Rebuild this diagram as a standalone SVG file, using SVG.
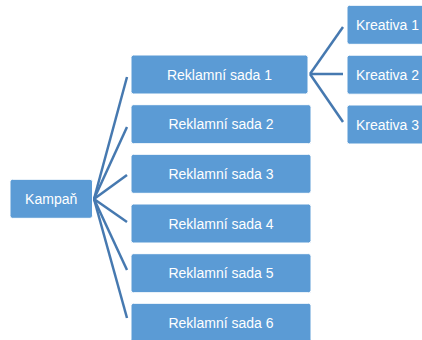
<svg xmlns="http://www.w3.org/2000/svg" width="422" height="340" viewBox="0 0 422 340">
<style>
.box{fill:#5B9BD5;stroke:#ffffff;stroke-width:1}
.lbl{font-family:"Liberation Sans",Arial,sans-serif;font-size:14px;fill:#ffffff;text-anchor:middle;dominant-baseline:central}
.con{stroke:#4679B0;stroke-width:2.5;fill:none;stroke-linecap:butt}
</style>
<rect width="422" height="340" fill="#ffffff"/>
<g id="connectors">
<line class="con" x1="94" y1="199" x2="127" y2="77"/>
<line class="con" x1="94" y1="199" x2="127" y2="127"/>
<line class="con" x1="94" y1="199" x2="127" y2="175"/>
<line class="con" x1="94" y1="199" x2="127" y2="222"/>
<line class="con" x1="94" y1="199" x2="127" y2="270"/>
<line class="con" x1="94" y1="199" x2="127" y2="318"/>
<line class="con" x1="310" y1="74" x2="343" y2="27"/>
<line class="con" x1="310" y1="74" x2="343" y2="74"/>
<line class="con" x1="310" y1="74" x2="343" y2="122"/>
</g>
<g id="kampan"><rect class="box" x="10" y="179.3" width="82.5" height="39" rx="2.5"/><text class="lbl" x="51.2" y="198.8">Kampaň</text></g>
<g id="sada1"><rect class="box" x="131" y="55" width="177" height="39" rx="2.5"/><text class="lbl" x="219.5" y="74.5">Reklamní sada 1</text></g>
<g id="sada2"><rect class="box" x="131" y="104.7" width="180" height="39" rx="2.5"/><text class="lbl" x="221" y="124.2">Reklamní sada 2</text></g>
<g id="sada3"><rect class="box" x="131" y="154.3" width="180" height="39" rx="2.5"/><text class="lbl" x="221" y="173.8">Reklamní sada 3</text></g>
<g id="sada4"><rect class="box" x="131" y="204" width="180" height="39" rx="2.5"/><text class="lbl" x="221" y="223.5">Reklamní sada 4</text></g>
<g id="sada5"><rect class="box" x="131" y="253.7" width="180" height="39" rx="2.5"/><text class="lbl" x="221" y="273.2">Reklamní sada 5</text></g>
<g id="sada6"><rect class="box" x="131" y="303.3" width="180" height="39" rx="2.5"/><text class="lbl" x="221" y="322.8">Reklamní sada 6</text></g>
<g id="kreativa1"><rect class="box" x="347" y="5.3" width="82" height="39" rx="2.5"/><text class="lbl" x="387.5" y="24.8">Kreativa 1</text></g>
<g id="kreativa2"><rect class="box" x="347" y="55.2" width="82" height="39" rx="2.5"/><text class="lbl" x="387.5" y="74.7">Kreativa 2</text></g>
<g id="kreativa3"><rect class="box" x="347" y="105" width="82" height="39" rx="2.5"/><text class="lbl" x="387.5" y="124.5">Kreativa 3</text></g>
</svg>
